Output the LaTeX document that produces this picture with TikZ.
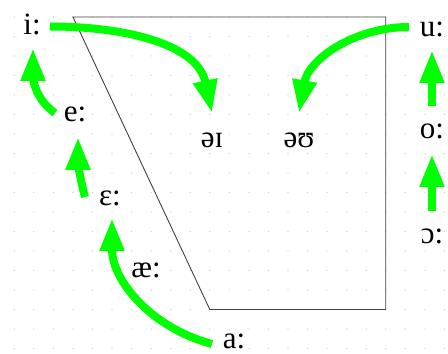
\documentclass[tikz,border=0pt]{standalone}
\usepackage{fontspec}
\setmainfont{Liberation Serif}
\usepackage{tikz}
\usetikzlibrary{arrows.meta, calc}
\definecolor{shiftgreen}{RGB}{0,255,0}
\tikzset{
  vowel/.style={inner sep=0pt, font=\fontsize{31}{37}\selectfont},
  gvs/.style={-{Triangle[length=33pt, width=23pt]}, line width=8pt, shiftgreen},
  griddot/.style={fill=black!22}
}

\begin{document}
\begin{tikzpicture}[x=1pt, y=1pt]
    \useasboundingbox (0,0) rectangle (448,354);
    \foreach \i in {0,...,22}
      \foreach \j in {0,...,17}
        \fill[griddot] (14.3+19.55*\i, 337-19.5*\j) circle (0.6pt);
    \draw[line width=0.9pt, black!75] (72.95,337) -- (385.75,337) -- (385.75,44.5) -- (209.8,44.5) -- cycle;
    \node[vowel] (i)   at (32, 329.5) {i:};
    \node[vowel] (e)   at (75, 240)   {e:};
    \node[vowel] (eps) at (110, 156)  {ɛ:};
    \node[vowel] (ae)  at (146, 84)   {æ:};
    \node[vowel] (a)   at (234, 12.5) {a:};
    \node[vowel] (u)   at (432, 325)  {u:};
    \node[vowel] (o)   at (432, 223)  {o:};
    \node[vowel] (oo)  at (432, 118)  {ɔ:};
    \node[vowel] (ai)  at (212, 214)  {əɪ};
    \node[vowel] (au)  at (299, 214)  {əʊ};
    \draw[gvs] ($(i)+(18,-2)$)   to[out=0, in=102]  ($(ai)+(0,27)$);
    \draw[gvs] ($(u)+(-23,2)$)   to[out=180, in=80] ($(au)+(0,27)$);
    \draw[gvs] ($(e)+(-20,1)$)   to[out=145, in=-90] ($(i)+(1,-23.5)$);
    \draw[gvs] ($(eps)+(-25,1)$) to[out=105, in=-90] ($(e)+(3,-23)$);
    \draw[gvs] ($(a)+(-22,-2.5)$) to[out=165, in=-90] ($(eps)+(2,-20)$);
    \draw[gvs] ($(o)+(0,25)$)  -- ($(u)+(0,-21)$);
    \draw[gvs] ($(oo)+(0,25)$) -- ($(o)+(0,-23)$);
  \end{tikzpicture}
\end{document}
